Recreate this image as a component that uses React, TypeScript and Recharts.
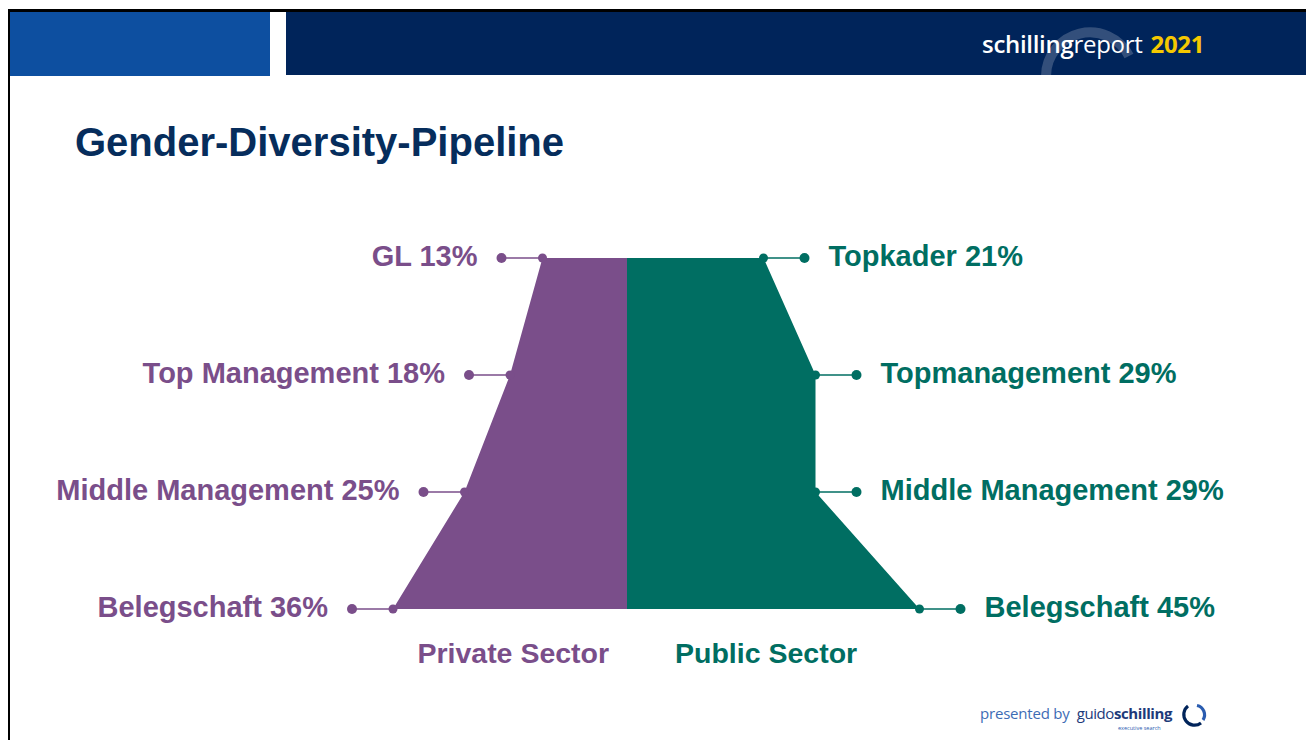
import { ComposedChart, Area, XAxis, YAxis } from "recharts";

// levels, top of the pipeline first
const levels = ["1", "2", "3", "4"];
const privateNames = ["GL", "Top Management", "Middle Management", "Belegschaft"];
const privateValues = [13, 18, 25, 36];
const publicNames = ["Topkader", "Topmanagement", "Middle Management", "Belegschaft"];
const publicValues = [21, 29, 29, 45];

const sectorNames = ["Private Sector", "Public Sector"];
const sectorTicks = [-17.5, 21.4];

const PURPLE = "#7a4e8a";
const GREEN = "#006e62";
const NAVY = "#00245a";
const FONT = "'Liberation Sans', Arial, sans-serif";

const data = levels.map((level, i) => ({
  level,
  priv: -privateValues[i],
  pub: publicValues[i],
}));

const makeDot =
  (side: "left" | "right", names: string[], values: number[], color: string) =>
  (props: any) => {
    const { cx, cy, index } = props;
    const key = `dot-${side}-${index}`;
    if (cx == null || cy == null) return <g key={key} />;
    const dir = side === "left" ? -1 : 1;
    const ex = cx + dir * 41;
    return (
      <g key={key}>
        <line x1={cx} y1={cy} x2={ex} y2={cy} stroke={color} strokeWidth={1.6} />
        <circle cx={cx} cy={cy} r={4.5} fill={color} />
        <circle cx={ex} cy={cy} r={5} fill={color} />
        <text
          x={ex + dir * 24}
          y={cy + 8}
          textAnchor={side === "left" ? "end" : "start"}
          fill={color}
          fontFamily={FONT}
          fontWeight="bold"
          fontSize={29}
        >
          {`${names[index]} ${values[index]}%`}
        </text>
      </g>
    );
  };

const SectorTick = (props: any) => {
  const { x, y, payload } = props;
  const i = sectorTicks.indexOf(payload.value);
  return (
    <text
      x={x}
      y={y}
      dy={46}
      textAnchor="middle"
      fill={i === 0 ? PURPLE : GREEN}
      fontFamily={FONT}
      fontWeight="bold"
      fontSize={28.5}
    >
      {sectorNames[i]}
    </text>
  );
};

export default function App() {
  return (
    <div
      style={{
        position: "absolute",
        left: 0,
        top: 0,
        width: 1306,
        height: 740,
        overflow: "hidden",
        background: "#fff",
      }}
    >
      {/* slide frame */}
      <div style={{ position: "absolute", left: 8, top: 9, width: 1298, height: 3, background: "#000" }} />
      <div style={{ position: "absolute", left: 8, top: 9, width: 2, height: 731, background: "#000" }} />

      {/* header band */}
      <div style={{ position: "absolute", left: 10, top: 12, width: 260, height: 64, background: "#0d4fa0" }} />
      <div style={{ position: "absolute", left: 286, top: 12, width: 1020, height: 63, background: NAVY }} />
      <svg style={{ position: "absolute", left: 0, top: 0 }} width={1306} height={76}>
        <path d="M 1046 76 A 44 44 0 0 1 1129 56" fill="none" stroke="rgba(255,255,255,0.2)" strokeWidth={10} />
      </svg>
      <div
        style={{
          position: "absolute",
          left: 982,
          top: 27,
          fontFamily: "'Open Sans', sans-serif",
          fontSize: 24,
          color: "#fff",
          whiteSpace: "nowrap",
          letterSpacing: -0.3,
        }}
      >
        <span style={{ fontWeight: 600 }}>schilling</span>
        <span>report</span>
        <span style={{ fontWeight: 700, color: "#f5c800", marginLeft: 8 }}>2021</span>
      </div>

      {/* title */}
      <div
        style={{
          position: "absolute",
          left: 75,
          top: 120,
          fontFamily: FONT,
          fontWeight: "bold",
          fontSize: 40,
          color: "#062d5c",
          whiteSpace: "nowrap",
        }}
      >
        Gender-Diversity-Pipeline
      </div>

      {/* pipeline chart */}
      <div style={{ position: "absolute", left: 0, top: 200 }}>
        <ComposedChart
          width={1306}
          height={480}
          data={data}
          layout="vertical"
          margin={{ top: 58, right: 354, bottom: 41, left: 302 }}
        >
          <XAxis
            type="number"
            domain={[-50, 50]}
            ticks={sectorTicks}
            interval={0}
            axisLine={false}
            tickLine={false}
            tick={<SectorTick />}
          />
          <YAxis type="category" dataKey="level" scale="point" hide />
          <Area
            type="linear"
            dataKey="priv"
            fill={PURPLE}
            fillOpacity={1}
            stroke="none"
            baseValue={0}
            dot={makeDot("left", privateNames, privateValues, PURPLE)}
            activeDot={false}
            isAnimationActive={false}
          />
          <Area
            type="linear"
            dataKey="pub"
            fill={GREEN}
            fillOpacity={1}
            stroke="none"
            baseValue={0}
            dot={makeDot("right", publicNames, publicValues, GREEN)}
            activeDot={false}
            isAnimationActive={false}
          />
        </ComposedChart>
      </div>

      {/* footer */}
      <div
        style={{
          position: "absolute",
          left: 980,
          top: 703,
          fontFamily: "'Open Sans', sans-serif",
          whiteSpace: "nowrap",
          display: "flex",
          alignItems: "baseline",
        }}
      >
        <span style={{ fontSize: 15, color: "#3d6cb5", letterSpacing: -0.2 }}>presented by</span>
        <span style={{ fontSize: 15, color: "#1d3a7a", marginLeft: 7, letterSpacing: -0.4 }}>guido</span>
        <span style={{ fontSize: 15, color: "#1d3a7a", fontWeight: 700, letterSpacing: -0.4 }}>schilling</span>
      </div>
      <div
        style={{
          position: "absolute",
          left: 1118,
          top: 725,
          fontFamily: "'Open Sans', sans-serif",
          fontSize: 5.5,
          lineHeight: "6px",
          color: "#2a5cb0",
          whiteSpace: "nowrap",
        }}
      >
        executive search
      </div>
      <svg style={{ position: "absolute", left: 1180, top: 701 }} width={28} height={28}>
        <path d="M 8 5 A 9.5 9.5 0 1 0 21 22" fill="none" stroke={NAVY} strokeWidth={3.2} />
        <path d="M 17 4.5 A 9.5 9.5 0 0 1 23 19" fill="none" stroke="#2a5cb0" strokeWidth={3.2} />
      </svg>
    </div>
  );
}
